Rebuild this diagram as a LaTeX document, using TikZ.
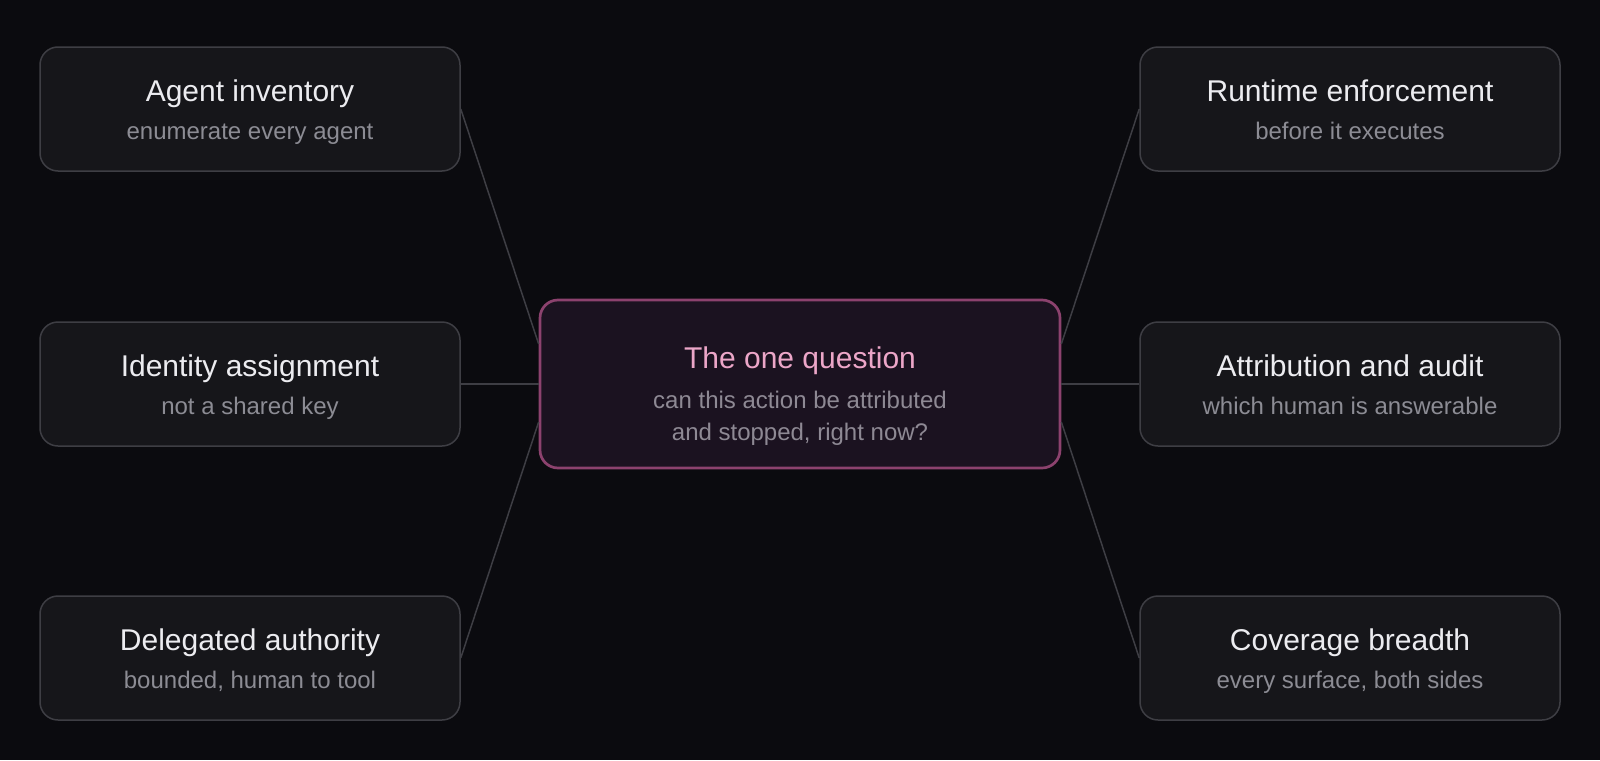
\documentclass[tikz,border=0pt]{standalone}
\usepackage{fontspec}
\setmainfont{Liberation Sans}
\usepackage{tikz}

\definecolor{bg}{RGB}{11,11,15}
\definecolor{cardfill}{RGB}{22,22,26}
\definecolor{cardline}{RGB}{62,62,68}
\definecolor{headwhite}{RGB}{236,236,240}
\definecolor{subgray}{RGB}{140,140,148}
\definecolor{qfill}{RGB}{27,18,32}
\definecolor{qline}{RGB}{140,66,110}
\definecolor{qpink}{RGB}{236,166,200}
\definecolor{qgray}{RGB}{142,137,148}

\newcommand{\hd}[1]{{\fontsize{15}{19.2}\selectfont\color{headwhite}\rule{0pt}{14.6pt}#1}}
\newcommand{\qhd}[1]{{\fontsize{15}{19.2}\selectfont\color{qpink}\rule{0pt}{23.6pt}#1}}
\newcommand{\lastdp}{\rule[-3pt]{0pt}{3pt}}

\tikzset{
    card/.style={draw=cardline, fill=cardfill, line width=0.75pt, rounded corners=9pt,
        minimum width=210pt, minimum height=62pt, inner sep=0pt, align=center,
        text=subgray, font=\fontsize{12}{19.2}\selectfont},
    qbox/.style={draw=qline, fill=qfill, line width=1.35pt, rounded corners=9pt,
        minimum width=260pt, minimum height=84pt, inner sep=0pt, align=center,
        text=qgray, font=\fontsize{12}{16}\selectfont},
    link/.style={draw=cardline, line width=0.75pt}
}

\begin{document}
\begin{tikzpicture}[x=0.5pt,y=-0.5pt]
    \fill[bg] (0,0) rectangle (1600,760);
    \useasboundingbox (0,0) rectangle (1600,760);

    \node[qbox] (q) at (800,384) {\qhd{The one question}\\[4.2pt] can this action be attributed\\ and stopped, right now?\lastdp};

    \node[card] (inv) at (250,109) {\hd{Agent inventory}\\ enumerate every agent\lastdp};
    \node[card] (idn) at (250,384) {\hd{Identity assignment}\\ not a shared key\lastdp};
    \node[card] (del) at (250,658) {\hd{Delegated authority}\\ bounded, human to tool\lastdp};
    \node[card] (run) at (1350,109) {\hd{Runtime enforcement}\\ before it executes\lastdp};
    \node[card] (att) at (1350,384) {\hd{Attribution and audit}\\ which human is answerable\lastdp};
    \node[card] (cov) at (1350,658) {\hd{Coverage breadth}\\ every surface, both sides\lastdp};

    \draw[link] (inv.east) -- ([yshift=20pt]q.west);
    \draw[link] (idn.east) -- (q.west);
    \draw[link] (del.east) -- ([yshift=-19pt]q.west);
    \draw[link] (run.west) -- ([yshift=20pt]q.east);
    \draw[link] (att.west) -- (q.east);
    \draw[link] (cov.west) -- ([yshift=-19pt]q.east);
\end{tikzpicture}
\end{document}
